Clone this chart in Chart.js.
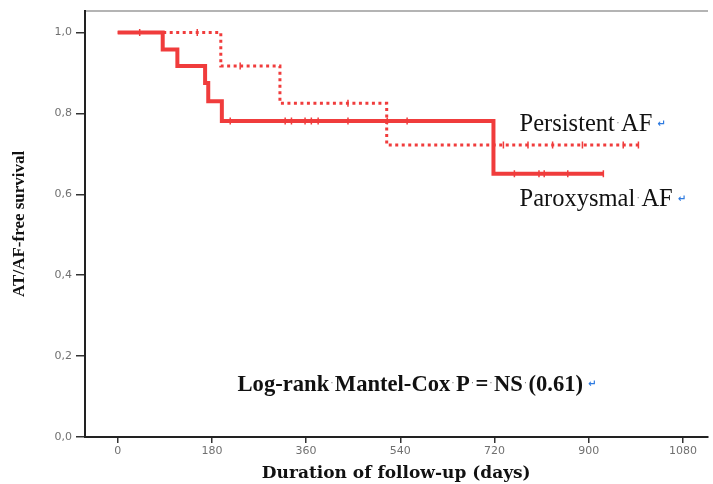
<!DOCTYPE html>
<html><head><meta charset="utf-8">
<script src="https://cdn.jsdelivr.net/npm/chart.js@4"></script>
<style>html,body{margin:0;padding:0;background:#fff}#wrap{width:713px;height:484px;position:relative}</style>
</head><body><div id="wrap"><canvas id="c"></canvas></div>
<script>
// ---- data ----
const paroxTimes = [0, 86, 114, 167, 173, 199, 718, 928];
const paroxSurv  = [1.0, 0.958, 0.917, 0.875, 0.830, 0.781, 0.651, 0.651];
const persTimes  = [0, 197, 310, 514, 995];
const persSurv   = [1.0, 0.917, 0.825, 0.722, 0.722];
const paroxCensored = [42, 215, 320, 332, 358, 370, 383, 440, 515, 553, 758, 805, 815, 860, 928];
const persCensored  = [152, 234, 440, 737, 784, 831, 888, 966, 995];
const xTickValues = [0, 180, 360, 540, 720, 900, 1080];
const yTickValues = [0, 0.2, 0.4, 0.6, 0.8, 1.0];
const seriesNames = ['Paroxysmal AF', 'Persistent AF'];
const xTitle = 'Duration of follow-up (days)';
const yTitle = 'AT/AF-free survival';
const noteTexts = ['Persistent·AF', 'Paroxysmal·AF', 'Log-rank·Mantel-Cox·P·=·NS·(0.61)'];

// ---- helpers ----
function stepAt(times, surv, t) {
  let v = surv[0];
  for (let i = 0; i < times.length; i++) if (times[i] <= t) v = surv[i];
  return v;
}
const RED = '#f03c3c';
const tickFont = {family: '"DejaVu Sans"', size: 11};
const tickColor = '#707070';

const notes = [
  {text: noteTexts[0], x: 768, y: 0.757, font: '24.5px "Liberation Serif"'},
  {text: noteTexts[1], x: 768, y: 0.571, font: '24.5px "Liberation Serif"'},
  {text: noteTexts[2], x: 229, y: 0.114, font: 'bold 22.6px "Liberation Serif"'}
];

const notePlugin = {
  id: 'notes',
  afterDraw(chart) {
    const ctx = chart.ctx, sx = chart.scales.x, sy = chart.scales.y;
    ctx.save();
    ctx.textAlign = 'left';
    ctx.textBaseline = 'alphabetic';
    notes.forEach(n => {
      let px = sx.getPixelForValue(n.x);
      const py = sy.getPixelForValue(n.y);
      ctx.font = n.font;
      // draw word by word, with Word's small space markers in between
      const parts = n.text.split('·');
      parts.forEach((p, i) => {
        ctx.fillStyle = '#111';
        ctx.font = n.font;
        ctx.fillText(p, px, py);
        px += ctx.measureText(p).width;
        if (i < parts.length - 1) {
          const sw = ctx.measureText(' ').width;
          ctx.fillStyle = '#777';
          ctx.font = '9px "DejaVu Sans"';
          ctx.fillText('·', px + sw / 2 - 1.5, py - 5);
          px += sw;
        }
      });
      ctx.font = 'bold 10px "DejaVu Sans"';
      ctx.fillStyle = '#2f7be0';
      ctx.fillText('↵', px + 5, py - 4);
    });
    ctx.restore();
  }
};

const fixedSize = (prop, val) => s => { s[prop] = val; };

new Chart(document.getElementById('c'), {
  type: 'line',
  data: {
    datasets: [
      {
        label: seriesNames[0],
        data: paroxTimes.map((t, i) => ({x: t, y: paroxSurv[i]})),
        borderColor: RED, borderWidth: 4, stepped: 'before',
        pointRadius: 0, fill: false
      },
      {
        label: seriesNames[1],
        data: persTimes.map((t, i) => ({x: t, y: persSurv[i]})),
        borderColor: RED, borderWidth: 3, borderDash: [3, 3.5], stepped: 'before',
        pointRadius: 0, fill: false
      },
      {
        type: 'scatter', label: seriesNames[0] + ' censored',
        data: paroxCensored.map(t => ({x: t, y: stepAt(paroxTimes, paroxSurv, t)})),
        pointStyle: 'line', rotation: 90, pointRadius: 3.5, borderWidth: 1.5,
        borderColor: RED, backgroundColor: RED, showLine: false
      },
      {
        type: 'scatter', label: seriesNames[1] + ' censored',
        data: persCensored.map(t => ({x: t, y: stepAt(persTimes, persSurv, t)})),
        pointStyle: 'line', rotation: 90, pointRadius: 3.5, borderWidth: 1.5,
        borderColor: RED, backgroundColor: RED, showLine: false
      }
    ]
  },
  options: {
    responsive: true, maintainAspectRatio: false, animation: false,
    layout: {padding: 0},
    plugins: {legend: {display: false}, tooltip: {enabled: false}},
    scales: {
      x: {
        type: 'linear', position: 'bottom', min: -62.5, max: 1127,
        afterBuildTicks: s => { s.ticks = xTickValues.map(v => ({value: v})); },
        ticks: {color: tickColor, font: tickFont, padding: 2, maxRotation: 0, autoSkip: false,
                callback: v => String(v)},
        grid: {drawOnChartArea: false, drawTicks: true, tickLength: 6, color: '#333', lineWidth: 1.5},
        border: {color: '#222', width: 2},
        title: {display: true, text: xTitle, color: '#111',
                font: {family: '"DejaVu Serif"', weight: 'bold', size: 17}, padding: {top: 0, bottom: 0}},
        afterFit: fixedSize('height', 47)
      },
      xTop: {
        type: 'linear', axis: 'x', position: 'top', min: 0, max: 1,
        ticks: {display: false}, grid: {display: false},
        border: {color: '#b4b4b4', width: 2},
        afterFit: fixedSize('height', 10)
      },
      y: {
        type: 'linear', min: 0, max: 1.054,
        afterBuildTicks: s => { s.ticks = yTickValues.map(v => ({value: v})); },
        ticks: {color: tickColor, font: tickFont, padding: 4,
                callback: v => v.toFixed(1).replace('.', ',')},
        grid: {drawOnChartArea: false, drawTicks: true, tickLength: 9, color: '#333', lineWidth: 1.5},
        border: {color: '#222', width: 2},
        title: {display: true, text: yTitle, color: '#111',
                font: {family: '"Liberation Serif"', weight: 'bold', size: 17}, padding: {top: 9, bottom: 0}},
        afterFit: fixedSize('width', 85)
      }
    }
  },
  plugins: [notePlugin]
});
</script>
</body></html>
